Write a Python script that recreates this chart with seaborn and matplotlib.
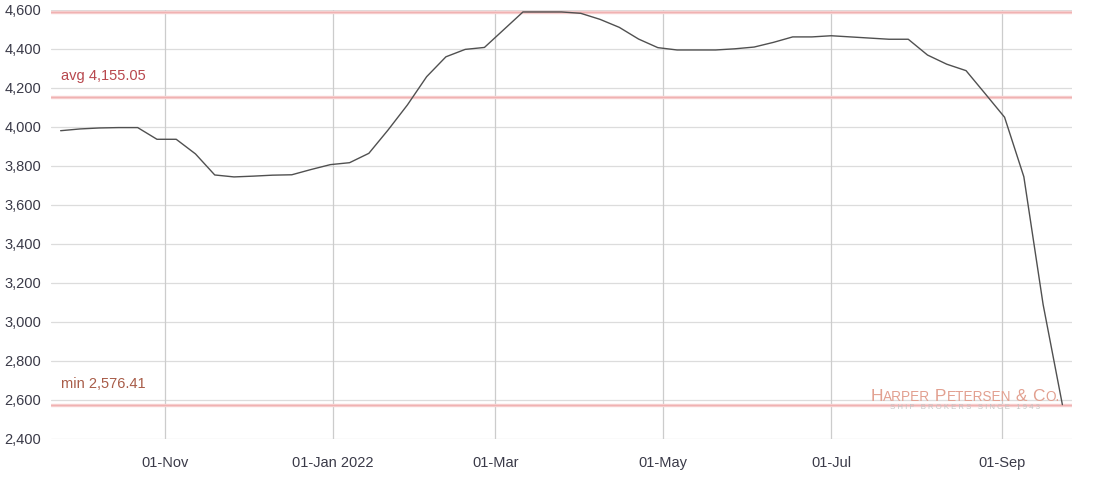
import matplotlib
matplotlib.use("Agg")
import matplotlib.pyplot as plt
import seaborn as sns
import pandas as pd
from matplotlib.offsetbox import TextArea, HPacker, VPacker, AnnotationBbox

# ---- data ----
start_date = "2021-09-24"
n_weeks = 53
values = [3981, 3990, 3995, 3997, 3997, 3937, 3937, 3862, 3754, 3744,
          3748, 3753, 3755, 3782, 3807, 3817, 3865, 3985, 4113, 4258,
          4360, 4398, 4408, 4499, 4590, 4590, 4590, 4583, 4552, 4511,
          4451, 4407, 4395, 4395, 4395, 4401, 4410, 4434, 4462, 4462,
          4468, 4462, 4456, 4450, 4450, 4369, 4322, 4289, 4170, 4050,
          3745, 3090, 2576.41]
avg_value = 4155.05
min_value = 2576.41
y_ticks = [2400, 2600, 2800, 3000, 3200, 3400, 3600, 3800, 4000, 4200, 4400, 4600]
x_tick_dates = ["2021-11-01", "2022-01-01", "2022-03-01", "2022-05-01", "2022-07-01", "2022-09-01"]
x_tick_labels = ["01-Nov", "01-Jan 2022", "01-Mar", "01-May", "01-Jul", "01-Sep"]

dates = pd.date_range(start_date, periods=n_weeks, freq="7D")
df = pd.DataFrame({"date": dates, "value": values})
max_value = max(values)

sns.set_theme(style="white")
plt.rcParams["font.family"] = ["Liberation Sans", "DejaVu Sans"]

W, H = 1105, 484
fig = plt.figure(figsize=(W / 100, H / 100), dpi=100)
ax = fig.add_axes([51 / W, 1 - 439 / H, (1072 - 51) / W, (439 - 10) / H])

# grid
for yv in y_ticks:
    ax.axhline(yv, color="#dcdcdc", lw=0.9, zorder=0)
for d in x_tick_dates:
    ax.axvline(pd.Timestamp(d), color="#cccccc", lw=0.9, zorder=0)

# reference lines
for v in (max_value, avg_value, min_value):
    ax.axhline(v, color="#f7cfcf", lw=2.4, zorder=1)
    ax.axhline(v, color="#f0b2b2", lw=0.8, zorder=1)

sns.lineplot(data=df, x="date", y="value", ax=ax, color="#505050", lw=1.0, zorder=3)

ax.set_ylim(2400, 4600)
ax.set_xlim(pd.Timestamp("2021-09-20 12:00"), pd.Timestamp("2022-09-26 12:00"))
ax.set_yticks(y_ticks)
ax.set_yticklabels([f"{v:,}" for v in y_ticks])
ax.set_xticks([pd.Timestamp(d) for d in x_tick_dates])
ax.set_xticklabels(x_tick_labels)
ax.tick_params(axis="both", length=0, labelsize=10.5, labelcolor="#3a3a48")
ax.tick_params(axis="y", pad=7)
ax.tick_params(axis="x", pad=12)
ax.set_xlabel("")
ax.set_ylabel("")
for s in ax.spines.values():
    s.set_visible(False)
ax.grid(False)

# labels for reference lines
ax.text(0.01, avg_value + 105, f"avg {avg_value:,.2f}", transform=ax.get_yaxis_transform(),
        color="#b8484e", fontsize=10.5, va="center", ha="left")
ax.text(0.01, min_value + 105, f"min {min_value:,.2f}", transform=ax.get_yaxis_transform(),
        color="#a85c48", fontsize=10.5, va="center", ha="left")

# watermark (small caps)
wm_color = "#e2a090"
big = dict(color=wm_color, fontsize=12.5, fontfamily="Liberation Sans")
small = dict(color=wm_color, fontsize=9.8, fontfamily="Liberation Sans")
pieces = [("H", big), ("ARPER", small), (" P", big), ("ETERSEN", small),
          (" & ", big), ("C", big), ("O.", small)]
row = HPacker(children=[TextArea(t, textprops=p) for t, p in pieces],
              align="baseline", pad=0, sep=0)
sub = TextArea("S H I P   B R O K E R S   S I N C E   1 9 4 3",
               textprops=dict(color="#c4c4c4", fontsize=5.6, fontfamily="Liberation Sans"))
wm = VPacker(children=[row, sub], align="center", pad=0, sep=0)
ab = AnnotationBbox(wm, (965 / W, 1 - 400 / H), xycoords="figure fraction",
                    frameon=False, box_alignment=(0.5, 0.5), pad=0)
fig.add_artist(ab)

fig.savefig("out.png", dpi=100)
